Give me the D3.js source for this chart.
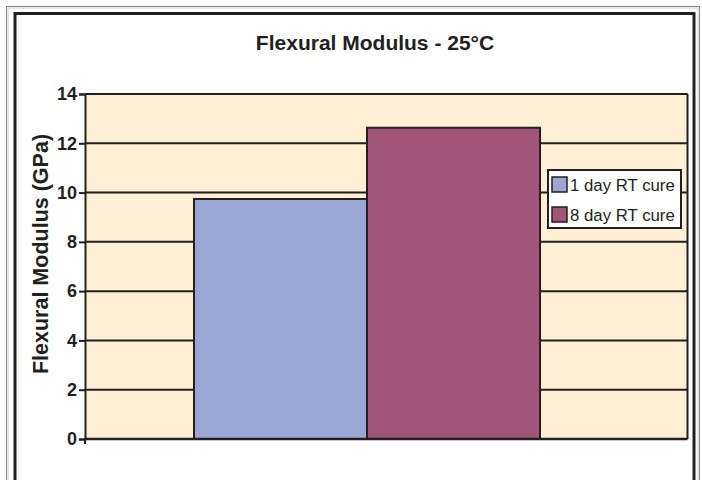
<!DOCTYPE html>
<html>
<head>
<meta charset="utf-8">
<script src="https://cdn.jsdelivr.net/npm/d3@7/dist/d3.min.js"></script>
<style>
html,body{margin:0;padding:0;background:#fff;}
svg{display:block;font-family:"Liberation Sans",Arial,sans-serif;}
</style>
</head>
<body>
<svg id="chart" width="702" height="480"></svg>
<script>
const title = "Flexural Modulus - 25°C";
const yLabel = "Flexural Modulus (GPa)";
const categories = ["25°C"];
const seriesNames = ["1 day RT cure", "8 day RT cure"];
const seriesValues = [9.74, 12.63];
const seriesColors = ["#9aa6d3", "#a2557a"];
const yTicks = [0, 2, 4, 6, 8, 10, 12, 14];

const ink = "#231f20";
const svg = d3.select("#chart");

// outer frame
svg.append("rect").attr("x", 6.5).attr("y", 6.5).attr("width", 693).attr("height", 490)
  .attr("fill", "none").attr("stroke", "#8a8a8a").attr("stroke-width", 1);
svg.append("rect").attr("x", 8).attr("y", 8).attr("width", 690).attr("height", 490)
  .attr("fill", "none").attr("stroke", "#d0d0d0").attr("stroke-width", 1);
svg.append("rect").attr("x", 15).attr("y", 13.5).attr("width", 679).attr("height", 490)
  .attr("fill", "#fff").attr("stroke", ink).attr("stroke-width", 3);

const plot = {left: 85, right: 687.5, top: 94, bottom: 439};

const y = d3.scaleLinear().domain([0, 14]).range([plot.bottom, plot.top]);
const x0 = d3.scaleBand().domain(categories).range([plot.left, 649]).paddingOuter(0.315).paddingInner(0);
const x1 = d3.scaleBand().domain(seriesNames).range([0, x0.bandwidth()]).padding(0);

// plot background
svg.append("rect").attr("x", plot.left).attr("y", plot.top)
  .attr("width", plot.right - plot.left).attr("height", plot.bottom - plot.top)
  .attr("fill", "#fff0d5");

// gridlines
svg.append("g").selectAll("line").data(yTicks.filter(d => d > 0)).join("line")
  .attr("x1", plot.left).attr("x2", plot.right)
  .attr("y1", d => y(d)).attr("y2", d => y(d))
  .attr("stroke", ink).attr("stroke-width", 2);

// bars
const data = seriesNames.map((s, i) => ({name: s, value: seriesValues[i], color: seriesColors[i]}));
svg.append("g").attr("transform", `translate(${x0(categories[0])},0)`)
  .selectAll("rect").data(data).join("rect")
  .attr("x", d => x1(d.name)).attr("width", x1.bandwidth())
  .attr("y", d => y(d.value)).attr("height", d => y(0) - y(d.value))
  .attr("fill", d => d.color).attr("stroke", ink).attr("stroke-width", 2);

// plot border (right), axis
svg.append("line").attr("x1", plot.right).attr("x2", plot.right).attr("y1", plot.top).attr("y2", plot.bottom)
  .attr("stroke", ink).attr("stroke-width", 2);
svg.append("line").attr("x1", plot.left).attr("x2", plot.right).attr("y1", plot.bottom).attr("y2", plot.bottom)
  .attr("stroke", ink).attr("stroke-width", 2.5);
svg.append("line").attr("x1", plot.left).attr("x2", plot.left).attr("y1", plot.bottom + 5).attr("y2", plot.bottom)
  .attr("stroke", ink).attr("stroke-width", 2);

const yAxis = svg.append("g").attr("transform", `translate(${plot.left},0)`)
  .call(d3.axisLeft(y).tickValues(yTicks).tickSize(6).tickPadding(2).tickFormat(d3.format("d")));
yAxis.select(".domain").attr("stroke", ink).attr("stroke-width", 2);
yAxis.selectAll(".tick line").attr("stroke", ink).attr("stroke-width", 2);
yAxis.selectAll(".tick text").attr("fill", ink)
  .style("font-family", "'Liberation Sans', Arial, sans-serif")
  .style("font-weight", "bold").style("font-size", "18px");

// title
svg.append("text").attr("x", 375).attr("y", 50).attr("text-anchor", "middle")
  .attr("fill", ink).style("font-weight", "bold").style("font-size", "21px").text(title);

// y label
svg.append("text").attr("transform", "translate(48,254) rotate(-90)").attr("text-anchor", "middle")
  .attr("fill", ink).style("font-weight", "bold").style("font-size", "21.5px").text(yLabel);

// legend
const lg = svg.append("g");
lg.append("rect").attr("x", 548).attr("y", 170).attr("width", 133).attr("height", 58)
  .attr("fill", "#fff").attr("stroke", ink).attr("stroke-width", 2);
const items = lg.selectAll("g.item").data(data).join("g").attr("class", "item")
  .attr("transform", (d, i) => `translate(552,${177 + i * 30})`);
items.append("rect").attr("x", 0).attr("y", 0).attr("width", 15).attr("height", 15)
  .attr("fill", d => d.color).attr("stroke", ink).attr("stroke-width", 1.5);
items.append("text").attr("x", 18).attr("y", 13.5).attr("fill", ink)
  .style("font-size", "16.8px").text(d => d.name);
</script>
</body>
</html>
